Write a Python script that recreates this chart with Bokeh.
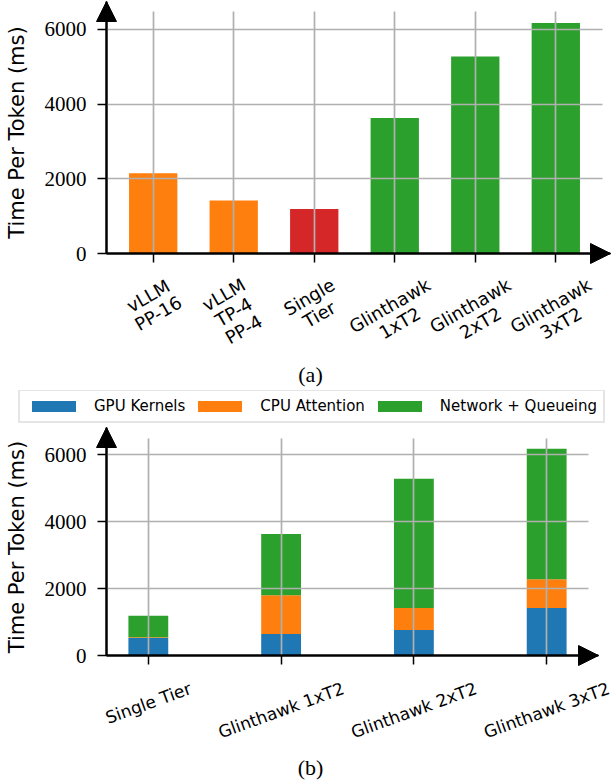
import math
from bokeh.plotting import figure
from bokeh.models import (ColumnDataSource, Range1d, FixedTicker, LabelSet, Label,
                          Arrow, NormalHead, Legend, LegendItem)
from bokeh.layouts import column
from bokeh.core.properties import value
from bokeh.embed import file_html
from bokeh.resources import INLINE

# ---------------- data ----------------
systems_a = ["vLLM\nPP-16", "vLLM\nTP-4\nPP-4", "Single\nTier",
             "Glinthawk\n1xT2", "Glinthawk\n2xT2", "Glinthawk\n3xT2"]
time_per_token_a = [2145, 1420, 1190, 3625, 5275, 6170]

systems_b = ["Single Tier", "Glinthawk 1xT2", "Glinthawk 2xT2", "Glinthawk 3xT2"]
gpu_kernels = [520, 640, 765, 1420]
cpu_attention = [25, 1160, 655, 855]
network_queueing = [645, 1825, 3855, 3895]
series_names = ["GPU Kernels", "CPU Attention", "Network + Queueing"]

y_ticks = [0, 2000, 4000, 6000]
y_label = "Time Per Token (ms)"

# ---------------- styles ----------------
BLUE, ORANGE, GREEN, RED = "#1f77b4", "#ff7f0e", "#2ca02c", "#d62728"
colors_a = [ORANGE, ORANGE, RED, GREEN, GREEN, GREEN]
colors_b = [BLUE, ORANGE, GREEN]
GRID = "#b0b0b0"
SANS = "DejaVu Sans"
SERIF = "Liberation Serif"

CW = {'v': .592, 'L': .557, 'M': .863, 'P': .603, '-': .361, '1': .636, '6': .636,
      'T': .611, '4': .636, 'S': .635, 'i': .278, 'n': .634, 'g': .635, 'l': .278,
      'e': .615, 'r': .411, 'G': .775, 't': .392, 'h': .634, 'a': .613, 'w': .818,
      'k': .579, 'x': .592, '2': .636, '3': .636, ' ': .318}


def text_w(s, fs):
    return fs * sum(CW.get(c, 0.6) for c in s)


def line_labels(labels, positions, fs, ang_deg, gap, lh):
    """Split rotated, centred multi-line tick labels into single lines,
    each offset (in px) so that the rotated block is centred under its tick."""
    a = math.radians(ang_deg)
    xs, ys, texts, xo, yo = [], [], [], [], []
    for pos, s in zip(positions, labels):
        lines = s.split("\n")
        n = len(lines)
        w = max(text_w(l, fs) for l in lines)
        bh = w * math.sin(a) + n * lh * math.cos(a)
        cy = gap + bh / 2
        for j, l in enumerate(lines):
            k = j - (n - 1) / 2
            xs.append(pos)
            ys.append(0)
            texts.append(l)
            xo.append(k * lh * math.sin(a))
            yo.append(-(cy + k * lh * math.cos(a)))
    return ColumnDataSource(dict(x=xs, y=ys, text=texts, xo=xo, yo=yo))


def build(n, W, H, PL, PR, PT, PB, AR, AT, ymax, bar_w):
    """Figure whose frame is the whole canvas; the plot box spans
    canvas pixels PL..PR (x) and PT..PB (y)."""
    pad = bar_w / 2 + 0.05 * (n - 1 + bar_w)
    x0, x1 = -pad, n - 1 + pad
    s = (PR - PL) / (x1 - x0)
    t = (PB - PT) / ymax
    xr = Range1d(x0 - PL / s, x0 + (W - PL) / s)
    yr = Range1d(-(H - PB) / t, ymax + PT / t)
    p = figure(width=W, height=H, x_range=xr, y_range=yr, output_backend="svg",
               toolbar_location=None, min_border=0, min_border_left=0,
               min_border_right=0, min_border_top=0, min_border_bottom=0)
    p.outline_line_color = None
    p.background_fill_color = "white"
    p.border_fill_color = "white"
    xtip = x0 + (AR - PL) / s
    ytip = ymax + (PT - AT) / t
    return p, dict(x0=x0, x1=x1, s=s, t=t, xtip=xtip, ytip=ytip)


def style_axes(p, g, xt, yt, ymax):
    p.xaxis.fixed_location = 0
    p.yaxis.fixed_location = g["x0"]
    p.xaxis.bounds = (g["x0"], g["xtip"])
    p.yaxis.bounds = (0, g["ytip"])
    p.xaxis.ticker = FixedTicker(ticks=xt)
    p.yaxis.ticker = FixedTicker(ticks=yt)
    p.xaxis.major_label_overrides = {i: "" for i in xt}
    p.axis.axis_line_width = 2
    p.axis.axis_line_color = "black"
    p.axis.major_tick_line_width = 1.5
    p.axis.major_tick_line_color = "black"
    p.axis.major_tick_out = 9
    p.axis.major_tick_in = 0
    p.axis.minor_tick_out = 0
    p.axis.minor_tick_in = 0
    p.yaxis.major_label_text_font = SERIF
    p.yaxis.major_label_text_font_size = "21px"
    p.yaxis.major_label_text_color = "black"
    p.yaxis.major_label_standoff = 11
    p.xgrid.ticker = FixedTicker(ticks=xt)
    p.ygrid.ticker = FixedTicker(ticks=[v for v in yt if v > 0])
    p.grid.grid_line_color = GRID
    p.grid.grid_line_width = 1.7
    p.grid.level = "annotation"
    p.xgrid.cross_bounds = (1.0 / g["t"], ymax)
    p.ygrid.cross_bounds = (g["x0"] + 1.0 / g["s"], g["x1"])


def add_arrows(p, g):
    for xe, ye in ((g["x0"], g["ytip"]), (g["xtip"], 0)):
        p.add_layout(Arrow(end=NormalHead(size=20, fill_color="black", line_color="black",
                                          line_width=1),
                           x_start=g["x0"], y_start=0, x_end=xe, y_end=ye,
                           line_color="black", line_width=2))


def add_tick_labels(p, src, ang, fs):
    p.add_layout(LabelSet(x="x", y="y", text="text", source=src,
                          x_offset="xo", y_offset="yo",
                          angle=ang, angle_units="deg", text_align="center",
                          text_baseline="middle", text_font=value(SANS),
                          text_font_size=fs, text_color="black"))


W = 611

# ---------------- figure (a) ----------------
n_a = len(systems_a)
idx_a = list(range(n_a))
ymax_a = max(time_per_token_a) * 1.05
HA = 390
p1, ga = build(n_a, W, HA, 106, 602, 11, 253, 610, 1, ymax_a, 0.6)
src_a = ColumnDataSource(dict(x=idx_a, top=time_per_token_a, color=colors_a))
p1.vbar(x="x", top="top", width=0.6, fill_color="color", line_color=None, source=src_a)
style_axes(p1, ga, idx_a, y_ticks, ymax_a)
add_arrows(p1, ga)
add_tick_labels(p1, line_labels(systems_a, idx_a, 18, 30, 21, 20), 30, "18px")
p1.add_layout(Label(x=ga["x0"], y=ymax_a / 2, x_offset=-90, text=y_label, angle=90,
                    angle_units="deg", text_align="center", text_baseline="middle",
                    text_font=SANS, text_font_size="21px", text_color="black"))
p1.add_layout(Label(x=ga["x0"], y=0, x_offset=204, y_offset=-121, text="(a)",
                    text_align="center", text_baseline="middle",
                    text_font=SERIF, text_font_size="22px", text_color="black"))

# ---------------- figure (b) ----------------
n_b = len(systems_b)
idx_b = list(range(n_b))
totals_b = [g + c + q for g, c, q in zip(gpu_kernels, cpu_attention, network_queueing)]
ymax_b = max(totals_b) * 1.05
HB = 392
p2, gb = build(n_b, W, HB, 106, 588, 48, 265, 598, 37, ymax_b, 0.3)
src_b = ColumnDataSource(dict(x=idx_b, gpu=gpu_kernels, cpu=cpu_attention, net=network_queueing))
rs = p2.vbar_stack(["gpu", "cpu", "net"], x="x", width=0.3, fill_color=colors_b,
                   line_color=None, source=src_b)
style_axes(p2, gb, idx_b, y_ticks, ymax_b)
add_arrows(p2, gb)
add_tick_labels(p2, line_labels(systems_b, idx_b, 17, 20, 23, 19.5), 20, "17px")
p2.add_layout(Label(x=gb["x0"], y=ymax_b / 2, x_offset=-90, text=y_label, angle=90,
                    angle_units="deg", text_align="center", text_baseline="middle",
                    text_font=SANS, text_font_size="21px", text_color="black"))
p2.add_layout(Label(x=gb["x0"], y=0, x_offset=204, y_offset=-112, text="(b)",
                    text_align="center", text_baseline="middle",
                    text_font=SERIF, text_font_size="22px", text_color="black"))
legend = Legend(items=[LegendItem(label=nm, renderers=[r]) for nm, r in zip(series_names, rs)],
                location=(18, HB - 33), orientation="horizontal",
                glyph_width=55, glyph_height=14, label_standoff=13, spacing=7,
                padding=6, margin=0, label_height=14,
                label_text_font=SANS, label_text_font_size="15px", label_text_color="black",
                border_line_color="#cccccc", border_line_width=2,
                background_fill_color="white", background_fill_alpha=1.0)
p2.add_layout(legend, "center")

layout = column(p1, p2, spacing=0)
open("out.html", "w").write(file_html(layout, INLINE, title="Time Per Token"))
